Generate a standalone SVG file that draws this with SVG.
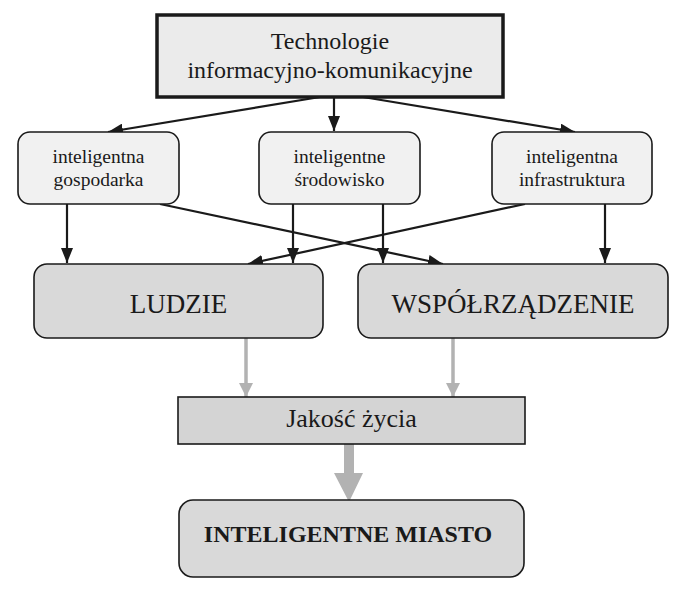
<svg xmlns="http://www.w3.org/2000/svg" width="692" height="590" viewBox="0 0 692 590">
<style>
  text { font-family: "Liberation Serif", "Times New Roman", serif; fill: #1a1a1a; text-anchor: middle; }
  .top { fill: #ebebeb; stroke: #1a1a1a; stroke-width: 3.5; }
  .mid { fill: #f1f1f1; stroke: #1a1a1a; stroke-width: 1.6; }
  .big { fill: #d9d9d9; stroke: #1a1a1a; stroke-width: 1.6; }
  .jak { fill: #d4d4d4; stroke: #1a1a1a; stroke-width: 1.6; }
  .blk { stroke: #1a1a1a; stroke-width: 2.2; fill: none; }
  .gry { stroke: #b2b2b2; stroke-width: 3.5; fill: none; }
  .t24 { font-size: 24px; }
  .t19 { font-size: 19.5px; }
  .t27 { font-size: 27px; }
  .t26 { font-size: 26px; }
  .tb { font-size: 24px; font-weight: bold; }
</style>
<defs>
  <marker id="ab" markerUnits="userSpaceOnUse" markerWidth="15" markerHeight="12" refX="15" refY="6" orient="auto">
    <path d="M0,0 L15,6 L0,12 z" fill="#1a1a1a"/>
  </marker>
  <marker id="ag" markerUnits="userSpaceOnUse" markerWidth="14" markerHeight="14" refX="14" refY="7" orient="auto">
    <path d="M0,0 L14,7 L0,14 z" fill="#b2b2b2"/>
  </marker>
</defs>
<rect width="692" height="590" fill="#ffffff"/>

<g id="connectors">
  <line class="blk" x1="320" y1="97" x2="108" y2="132" marker-end="url(#ab)"/>
  <line class="blk" x1="334" y1="97" x2="334" y2="131" marker-end="url(#ab)"/>
  <line class="blk" x1="363" y1="97" x2="575" y2="132" marker-end="url(#ab)"/>
  <line class="blk" x1="67" y1="204" x2="67" y2="263" marker-end="url(#ab)"/>
  <line class="blk" x1="160" y1="204" x2="443" y2="264" marker-end="url(#ab)"/>
  <line class="blk" x1="293" y1="204" x2="293" y2="263" marker-end="url(#ab)"/>
  <line class="blk" x1="383" y1="204" x2="383" y2="263" marker-end="url(#ab)"/>
  <line class="blk" x1="525" y1="204" x2="248" y2="264" marker-end="url(#ab)"/>
  <line class="blk" x1="605" y1="204" x2="605" y2="263" marker-end="url(#ab)"/>
  <line class="gry" x1="246" y1="338" x2="246" y2="397" marker-end="url(#ag)"/>
  <line class="gry" x1="453" y1="338" x2="453" y2="397" marker-end="url(#ag)"/>
  <path d="M344,444 L354,444 L354,473 L363,473 L349,502 L334,473 L344,473 z" fill="#b2b2b2"/>
</g>

<g id="ict">
  <rect class="top" x="157" y="15" width="346" height="82"/>
  <text class="t24" x="330" y="49">Technologie</text>
  <text class="t24" x="330" y="78">informacyjno-komunikacyjne</text>
</g>

<g id="gospodarka">
  <rect class="mid" x="18" y="132" width="161" height="72" rx="12"/>
  <text class="t19" x="98.5" y="163">inteligentna</text>
  <text class="t19" x="98.5" y="186">gospodarka</text>
</g>

<g id="srodowisko">
  <rect class="mid" x="259" y="132" width="161" height="72" rx="12"/>
  <text class="t19" x="339.5" y="163">inteligentne</text>
  <text class="t19" x="339.5" y="186">środowisko</text>
</g>

<g id="infrastruktura">
  <rect class="mid" x="492" y="132" width="160" height="72" rx="12"/>
  <text class="t19" x="572" y="163">inteligentna</text>
  <text class="t19" x="572" y="186">infrastruktura</text>
</g>

<g id="ludzie">
  <rect class="big" x="34" y="264" width="289" height="74" rx="13"/>
  <text class="t27" x="178.5" y="313">LUDZIE</text>
</g>

<g id="wspolrzadzenie">
  <rect class="big" x="358" y="264" width="310" height="74" rx="13"/>
  <text class="t27" x="513" y="313">WSPÓŁRZĄDZENIE</text>
</g>

<g id="jakosc">
  <rect class="jak" x="178" y="397" width="347" height="47"/>
  <text class="t26" x="351.5" y="427">Jakość życia</text>
</g>

<g id="miasto">
  <rect class="big" x="179" y="500" width="345" height="77" rx="14"/>
  <text class="tb" x="348" y="542">INTELIGENTNE MIASTO</text>
</g>
</svg>
